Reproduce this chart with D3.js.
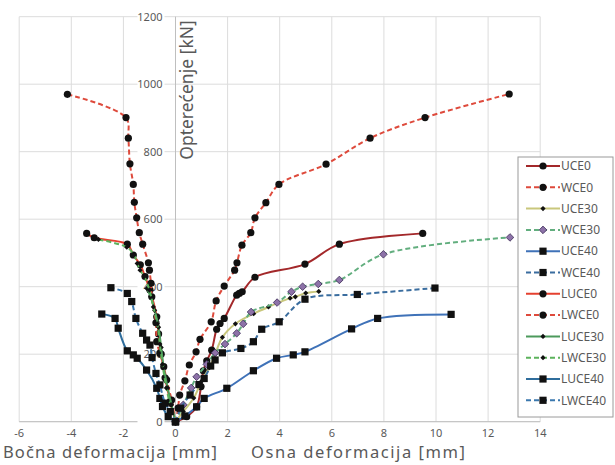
<!DOCTYPE html>
<html>
<head>
<meta charset="utf-8">
<script src="https://cdn.jsdelivr.net/npm/d3@7"></script>
<style>
  body { margin: 0; background: #fff; }
  svg text { font-family: "Noto Sans", "Open Sans", sans-serif; fill: #595959; }
</style>
</head>
<body>
<div id="chart"></div>
<script>
// axis ticks
const xTicks = [-6, -4, -2, 0, 2, 4, 6, 8, 10, 12, 14];
const yTicks = [0, 200, 400, 600, 800, 1000, 1200];

// series names (legend order)
const seriesNames = ["UCE0", "WCE0", "UCE30", "WCE30", "UCE40", "WCE40",
                     "LUCE0", "LWCE0", "LUCE30", "LWCE30", "LUCE40", "LWCE40"];

// [deformation mm, load kN]
const UCE0 = [[0,0],[0.43,15],[0.81,44],[0.98,104],[1.07,151],[1.2,180],[1.39,212],[1.58,274],[1.71,291],[1.87,306],[2.35,375],[2.45,380],[2.56,385],[3.05,428],[4.97,467],[6.29,526],[9.49,558]];
const WCE0 = [[0,0],[0.1,40],[0.16,79],[0.36,121],[0.53,168],[0.79,207],[0.94,244],[1.37,296],[1.56,358],[1.87,402],[2.27,449],[2.36,471],[2.55,523],[2.89,560],[3.05,604],[3.47,649],[3.97,703],[5.78,763],[7.47,840],[9.58,901],[12.81,971]];
const UCE30 = [[0,0],[0.3,30],[0.7,70],[1.0,120],[1.3,160],[1.52,200],[1.8,250],[2.3,290],[3.0,320],[3.57,340],[4.4,366],[4.6,370],[5.0,381],[5.5,386]];
const WCE30 = [[0,0],[0.3,50],[0.6,100],[0.81,133],[1.2,170],[1.52,204],[1.9,230],[2.35,262],[2.6,290],[2.9,325],[3.9,353],[4.45,385],[4.88,400],[5.48,408],[6.29,420],[7.98,496],[12.84,546]];
const UCE40 = [[0,0],[0.36,17],[0.81,44],[1.1,69],[1.97,99],[2.99,151],[3.88,188],[4.52,198],[4.97,207],[6.76,275],[7.76,306],[10.58,318]];
const WCE40 = [[0,0],[0.2,40],[0.56,79],[0.9,110],[1.1,128],[1.35,165],[1.52,183],[1.8,204],[2.51,217],[2.99,237],[3.31,274],[3.98,296],[4.97,363],[6.98,377],[9.96,396]];
const LUCE0 = [[0,0],[-0.2,60],[-0.4,130],[-0.55,200],[-0.65,260],[-0.72,311],[-0.98,390],[-1.17,430],[-1.35,465],[-1.62,494],[-1.85,526],[-3.12,545],[-3.41,558]];
const LWCE0 = [[0,0],[-0.15,64],[-0.34,124],[-0.45,163],[-0.6,203],[-0.72,237],[-0.75,293],[-0.91,370],[-0.94,410],[-1.0,449],[-1.04,471],[-1.26,526],[-1.39,560],[-1.49,604],[-1.58,650],[-1.62,703],[-1.75,764],[-1.81,840],[-1.9,901],[-4.15,970]];
const LUCE30 = [[0,0],[-0.15,50],[-0.3,100],[-0.45,160],[-0.55,220],[-0.65,280],[-0.8,330],[-0.95,370],[-1.1,395]];
const LWCE30 = [[0,0],[-0.2,50],[-0.35,100],[-0.5,170],[-0.6,230],[-0.7,290],[-0.85,340],[-1.0,390],[-1.2,430],[-1.36,449],[-1.47,469],[-1.59,494],[-1.87,517],[-2.96,540]];
const LUCE40 = [[0,0],[-0.28,15],[-0.5,45],[-0.6,69],[-0.72,99],[-1.11,153],[-1.47,188],[-1.62,198],[-1.85,210],[-2.2,277],[-2.32,306],[-2.83,319]];
const LWCE40 = [[0,0],[-0.2,30],[-0.4,55],[-0.6,109],[-0.75,143],[-0.9,190],[-0.98,227],[-1.11,242],[-1.26,262],[-1.52,306],[-1.68,356],[-1.85,380],[-2.48,397]];

const seriesData = [UCE0, WCE0, UCE30, WCE30, UCE40, WCE40, LUCE0, LWCE0, LUCE30, LWCE30, LUCE40, LWCE40];

// styling per series
const styles = {
    "UCE0":   { color: "#a3282a", dash: null,  marker: "circle" },
    "WCE0":   { color: "#de4a3c", dash: "5,3", marker: "circle" },
    "UCE30":  { color: "#c9c77c", dash: null,  marker: "small" },
    "WCE30":  { color: "#62ae7e", dash: "5,3", marker: "purple" },
    "UCE40":  { color: "#3f72b8", dash: null,  marker: "square" },
    "WCE40":  { color: "#3a6d9f", dash: "5,3", marker: "square" },
    "LUCE0":  { color: "#e5402f", dash: null,  marker: "circle" },
    "LWCE0":  { color: "#de4a3c", dash: "5,3", marker: "circle" },
    "LUCE30": { color: "#4c9a5c", dash: null,  marker: "small" },
    "LWCE30": { color: "#5cb35c", dash: "5,3", marker: "small" },
    "LUCE40": { color: "#2f6d9c", dash: null,  marker: "square" },
    "LWCE40": { color: "#3b78ae", dash: "5,3", marker: "square" }
};

const width = 615, height = 465;

const svg = d3.select("#chart").append("svg")
    .attr("width", width)
    .attr("height", height);

const x = d3.scaleLinear().domain([-6, 14]).range([19.2, 540.2]);
const y = d3.scaleLinear().domain([0, 1200]).range([421.7, 16.7]);

// ----- grid -----
svg.append("g").selectAll("line")
    .data(xTicks)
    .enter().append("line")
    .attr("x1", d => x(d)).attr("x2", d => x(d))
    .attr("y1", y(1200)).attr("y2", y(0))
    .attr("stroke", "#dcdcdc").attr("stroke-width", 1);

svg.append("g").selectAll("line")
    .data(yTicks)
    .enter().append("line")
    .attr("x1", x(-6)).attr("x2", x(14))
    .attr("y1", d => y(d)).attr("y2", d => y(d))
    .attr("stroke", "#dcdcdc").attr("stroke-width", 1);

// axis lines
svg.append("line")
    .attr("x1", x(-6)).attr("x2", x(14))
    .attr("y1", y(0)).attr("y2", y(0))
    .attr("stroke", "#bfbfbf");
svg.append("line")
    .attr("x1", x(0)).attr("x2", x(0))
    .attr("y1", y(0)).attr("y2", y(1200))
    .attr("stroke", "#bfbfbf");

// x tick labels
svg.append("g").selectAll("text")
    .data(xTicks)
    .enter().append("text")
    .attr("x", d => x(d))
    .attr("y", 437)
    .style("text-anchor", "middle")
    .style("font-size", "11px")
    .text(d => d);

// y tick labels with white backing
const yLab = svg.append("g").selectAll("g")
    .data(yTicks)
    .enter().append("g")
    .attr("transform", d => `translate(${x(0) - 13},${y(d)})`);
yLab.append("rect")
    .attr("x", -25).attr("y", -6)
    .attr("width", 27).attr("height", 12)
    .attr("fill", "#fff");
yLab.append("text")
    .attr("x", 0)
    .attr("dy", "0.35em")
    .style("text-anchor", "end")
    .style("font-size", "11px")
    .text(d => d);

// axis titles
svg.append("text")
    .attr("transform", `translate(193,90) rotate(-90)`)
    .style("text-anchor", "middle")
    .style("font-size", "17.5px")
    .text("Opterećenje [kN]");

svg.append("text")
    .attr("x", 3).attr("y", 458)
    .attr("textLength", 214)
    .attr("lengthAdjust", "spacing")
    .style("font-size", "16.5px")
    .text("Bočna deformacija [mm]");

svg.append("text")
    .attr("x", 251).attr("y", 458)
    .attr("textLength", 214)
    .attr("lengthAdjust", "spacing")
    .style("font-size", "16.5px")
    .text("Osna deformacija [mm]");

// ----- series -----
const line = d3.line()
    .x(d => x(d[0]))
    .y(d => y(d[1]))
    .curve(d3.curveCatmullRom.alpha(0.5));

function drawMarker(g, kind, cx, cy) {
    if (kind === "circle") {
        g.append("circle").attr("cx", cx).attr("cy", cy).attr("r", 3.6).attr("fill", "#111");
    } else if (kind === "square") {
        g.append("rect").attr("x", cx - 3.6).attr("y", cy - 3.6)
            .attr("width", 7.2).attr("height", 7.2).attr("fill", "#111");
    } else if (kind === "purple") {
        g.append("path").attr("d", `M${cx},${cy - 3.8}L${cx + 3.8},${cy}L${cx},${cy + 3.8}L${cx - 3.8},${cy}Z`)
            .attr("fill", "#8d72a8").attr("stroke", "#3a2a55").attr("stroke-width", 0.8);
    } else {
        g.append("path").attr("d", `M${cx},${cy - 2.6}L${cx + 2.6},${cy}L${cx},${cy + 2.6}L${cx - 2.6},${cy}Z`)
            .attr("fill", "#111");
    }
}

seriesNames.forEach((name, i) => {
    const st = styles[name];
    const g = svg.append("g").attr("class", "series");
    g.append("path")
        .datum(seriesData[i])
        .attr("d", line)
        .attr("fill", "none")
        .attr("stroke", st.color)
        .attr("stroke-width", 2)
        .attr("stroke-dasharray", st.dash);
    seriesData[i].forEach(p => drawMarker(g, st.marker, x(p[0]), y(p[1])));
});

// ----- legend -----
const legend = svg.append("g").attr("transform", "translate(518,157)");
legend.append("rect")
    .attr("width", 95).attr("height", 260)
    .attr("fill", "#fff")
    .attr("stroke", "#9a9a9a");

const legendItems = legend.selectAll(".legend")
    .data(seriesNames)
    .enter().append("g")
    .attr("class", "legend")
    .attr("transform", (d, i) => `translate(0,${9 + i * 21.3})`);

legendItems.append("line")
    .attr("x1", 8).attr("x2", 42)
    .attr("y1", 0).attr("y2", 0)
    .attr("stroke", d => styles[d].color)
    .attr("stroke-width", 2)
    .attr("stroke-dasharray", d => styles[d].dash);

legendItems.each(function(d) {
    drawMarker(d3.select(this), styles[d].marker, 25, 0);
});

legendItems.append("text")
    .attr("x", 43)
    .attr("dy", "0.35em")
    .style("font-size", "12px")
    .text(d => d);
</script>
</body>
</html>
